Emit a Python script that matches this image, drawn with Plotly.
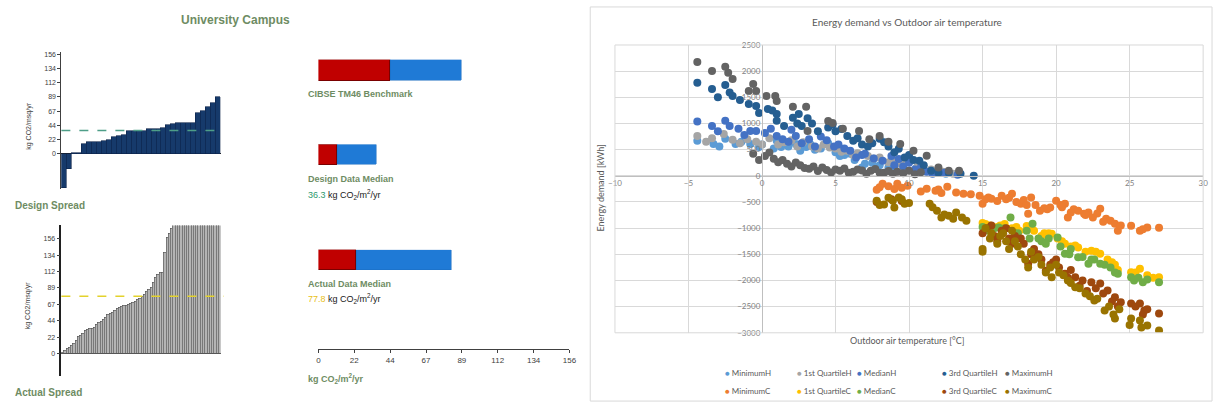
import plotly.graph_objects as go

W, H = 1223, 409


def fx(p):
    return p / W


def fy(p):
    return 1 - p / H


# ---------------- DATA ----------------
design_spread = [-54, -23, 1, 2, 15, 18, 18, 18, 20, 22, 26, 28, 30, 36, 36, 36, 36, 39, 39, 39,
                 41, 45, 47, 49, 49, 49, 49, 65, 68, 74, 80, 89]
actual_spread = [1, 4, 7, 9, 11, 14, 18, 23, 25, 28, 32, 33, 34, 34, 36, 39, 42, 44, 46, 49,
                 53, 54, 56, 59, 61, 63, 64, 65, 66, 67, 68, 70, 71, 73, 75, 77, 80, 85, 87, 90,
                 96, 103, 108, 110, 110, 138, 158, 163, 170, 178, 185, 192, 198, 205, 214, 222,
                 231, 240, 252, 265, 280, 296, 315, 338, 362, 390, 425, 470, 530, 610]
design_median = 36.3
actual_median = 77.8

bench_labels = ["CIBSE TM46 Benchmark", "Design Data Median", "Actual Data Median"]
bench_red = [45, 12, 23.5]
bench_blue = [44, 24.3, 59]
co2_tick_labels = ["0", "22", "44", "67", "89", "112", "134", "156"]
co2_max = 156

minH_x = [-4.4, -3.3, -2.5, -1.8, -0.8, -0.2, 1.0, 1.3, 2.3, 3.0, 3.6, 4.5, 5.0, 5.6, 6.0, 6.8, 7.5, 8.6, 9.7, 10.5, 11.6, 12.5,
          -2.9, -1.4, 0.0, 0.8, 1.8, 2.6, 3.3, 4.0, 5.3, 6.3, 7.0, 8.0, 9.0]
minH_y = [668, 610, 706, 610, 610, 553, 668, 553, 610, 553, 500, 620, 450, 400, 420, 160, 250, 160, 250, 150, 60, 40,
          560, 650, 600, 520, 560, 480, 600, 520, 380, 300, 230, 200, 180]
q1H_x = [-4.4, -3.4, -2.6, -2.0, -1.0, -0.4, 0.5, 1.1, 2.0, 2.8, 3.4, 4.2, 5.0, 5.8, 6.5, 7.2, 8.0, 9.0, 9.8, 10.6, 11.5, 12.3, 13.0,
         -3.8, -1.5, 0.0, 1.5, 2.4, 3.8, 4.6, 5.4, 6.2, 7.6, 8.6, 9.4]
q1H_y = [760, 720, 800, 690, 700, 650, 720, 600, 680, 640, 560, 600, 520, 480, 430, 380, 350, 300, 280, 200, 120, 80, 40,
         650, 620, 600, 640, 560, 520, 540, 460, 400, 330, 260, 230]
medH_x = [-4.4, -3.4, -2.5, -2.2, -1.6, -0.8, -0.4, 0.2, 1.0, 1.4, 2.3, 2.7, 3.2, 4.4, 4.9, 5.6, 6.4, 7.0, 8.2, 8.8, 9.3, 10.0, 10.8, 11.6, 12.4, 13.3,
          -3.0, -1.2, 0.6, 1.8, 2.0, 3.6, 4.0, 5.2, 6.0, 6.8, 7.6, 9.0, 9.6, 10.4, 11.2]
medH_y = [1040, 954, 1050, 954, 900, 858, 858, 820, 763, 700, 763, 620, 700, 680, 560, 520, 350, 420, 286, 380, 320, 250, 160, 38, 60, 20,
          850, 780, 900, 650, 880, 560, 750, 600, 480, 400, 330, 200, 180, 120, 80]
q3H_x = [-4.4, -3.4, -2.5, -2.2, -2.0, -0.9, -0.4, 0.4, 1.0, 1.0, 2.1, 2.4, 2.7, 3.1, 4.5, 4.8, 5.4, 6.2, 6.8, 7.5,
         8.0, 8.6, 9.3, 10.0, 10.7, 11.5, 12.0, 12.7, 13.5, 14.4,
         -3.0, -1.5, -0.2, 0.7, 1.5, 2.5, 3.4, 3.8, 5.0, 5.8, 6.5, 7.2, 8.3, 9.0, 9.7, 10.3, 11.0]
q3H_y = [1780, 1660, 1736, 1590, 1526, 1374, 1336, 1278, 1183, 1050, 1112, 1000, 954, 1100, 922, 980, 896, 668, 600, 620,
         706, 560, 515, 400, 286, 95, 57, 57, 40, 0,
         1500, 1450, 1200, 1250, 950, 1180, 1000, 850, 850, 760, 720, 560, 640, 450, 350, 300, 200]
maxH_x = [-4.4, -3.4, -2.5, -2.3, -2.0, -0.9, -0.6, -0.4, 0.3, 0.9, 1.0, 2.1, 3.0, 3.1, 4.5, 4.8, 5.5, 6.6, 7.3, 8.0,
          8.6, 9.4, 10.3, 11.2, 12.0, 12.7, 13.4,
          -0.6, -0.2, 0.2, 0.5, 0.8, 1.1, 1.4, 1.7, 2.0, 2.3, 2.6, 2.9, 3.2, 3.5, 3.8, 4.1, 4.4, 4.7, 5.0, 5.3,
          5.6, 5.9, 6.2, 6.5, 6.8, 7.1, 7.4, 7.7, 8.0, 8.3, 8.6, 8.9, 9.2, 9.6, 10.0, 10.4, 10.8]
maxH_y = [2175, 2003, 2086, 1971, 1850, 1622, 1755, 1622, 1526, 1526, 1431, 1322, 1322, 858, 1049, 1011, 900, 858, 700, 763,
          650, 610, 477, 382, 158, 95, 95,
          420, 300, 380, 445, 324, 260, 300, 229, 180, 254, 200, 150, 134, 180, 90, 160, 110, 63, 120, 95,
          140, 60, 80, 120, 100, 40, 95, 130, 60, 57, 90, 40, 80, 50, 95, 30, 70]

minC_x = [7.8, 8.2, 8.6, 9.2, 9.5, 9.9, 11.2, 11.8, 12.2, 12.6, 13.2, 13.7, 14.8, 15.0, 15.4, 15.6, 16.0, 16.3, 16.6, 17.0,
          17.3, 17.6, 18.1, 18.3, 18.6, 18.9, 19.2, 19.6, 20.0, 20.3, 20.6, 20.8, 21.2, 21.5, 21.9, 22.2, 22.5, 23.0, 23.4, 23.7,
          24.0, 24.2, 25.1, 25.7, 26.2, 27.0,
          8.0, 9.0, 10.8, 12.0, 14.2, 15.2, 16.8, 17.8, 18.0, 19.4, 20.4, 21.0, 22.0, 22.8, 23.2, 24.4, 25.9]
minC_y = [-267, -153, -200, -153, -230, -191, -248, -286, -330, -210, -318, -343, -382, -534, -414, -439, -480, -382, -450, -343,
          -500, -534, -725, -414, -560, -668, -620, -605, -477, -560, -534, -795, -640, -668, -725, -700, -795, -630, -820, -860,
          -916, -1050, -954, -1050, -986, -992,
          -220, -250, -300, -260, -350, -450, -420, -460, -560, -640, -600, -700, -750, -720, -880, -950, -1020]
q1C_x = [15.0, 15.5, 16.0, 16.5, 17.0, 17.5, 18.0, 18.5, 19.0, 19.5, 19.7, 20.1, 20.6, 21.0, 21.5, 22.0, 22.4, 23.0, 23.5, 24.0,
         24.2, 25.1, 25.7, 26.2, 27.0,
         15.2, 16.2, 17.3, 18.3, 19.2, 20.4, 21.3, 22.7, 23.8, 25.4, 26.6]
q1C_y = [-900, -950, -980, -920, -1000, -1050, -960, -1050, -1150, -1100, -1107, -1200, -1300, -1350, -1368, -1450, -1431, -1488, -1600, -1700,
         -1800, -1845, -1775, -1900, -1940,
         -920, -950, -980, -1000, -1100, -1250, -1330, -1450, -1650, -1850, -1950]
medC_x = [15.0, 15.4, 16.1, 16.9, 17.4, 18.0, 18.4, 19.0, 19.5, 20.1, 20.6, 21.0, 21.5, 22.2, 22.6, 23.0, 23.7, 24.2, 25.1, 25.9, 26.2, 27.0,
          15.8, 16.5, 17.2, 18.2, 18.8, 19.3, 20.3, 20.9, 21.8, 22.4, 23.3, 24.0, 25.3, 25.6]
medC_y = [-980, -1050, -986, -795, -1100, -1050, -916, -1250, -1200, -1177, -1488, -1400, -1558, -1679, -1600, -1679, -1750, -1870, -1940, -2035, -1980, -2035,
          -1000, -1000, -1100, -1200, -1200, -1300, -1350, -1500, -1550, -1600, -1700, -1850, -2000, -1950]
q3C_x = [7.8, 8.8, 9.5, 15.0, 15.3, 15.8, 16.3, 16.8, 17.2, 17.8, 18.1, 18.5, 19.0, 19.3, 19.8, 20.2, 20.6, 21.0, 21.3, 21.8,
         22.4, 23.0, 23.5, 24.0, 24.4, 25.1, 25.7, 26.0, 27.0,
         15.6, 16.0, 16.6, 17.0, 17.6, 18.3, 18.8, 19.6, 20.0, 20.8, 21.6, 22.1, 22.7, 23.2, 23.8, 24.2, 25.4, 25.9, 26.2]
q3C_y = [-500, -450, -480, -1100, -1000, -1150, -1050, -1200, -1150, -1300, -1679, -1400, -1600, -1813, -1650, -1750, -1870, -1800, -1940, -2000,
         -2035, -2060, -2194, -2322, -2417, -2442, -2442, -2576, -2633,
         -950, -1250, -1000, -1300, -1200, -1500, -1500, -1700, -1600, -1950, -2100, -2200, -2150, -2250, -2400, -2500, -2500, -2650, -2550]
maxC_x = [7.8, 8.3, 8.9, 9.0, 9.3, 9.7, 11.4, 11.9, 12.2, 12.7, 13.2, 13.6, 13.9, 15.0, 15.0, 15.5, 16.0, 16.4, 16.8, 17.2,
          17.6, 18.1, 18.5, 19.0, 19.7, 20.2, 20.8, 21.3, 22.0, 22.6, 23.3, 24.0, 25.1, 25.7, 26.2, 27.0,
          15.2, 15.6, 16.2, 16.6, 17.0, 17.4, 17.9, 18.3, 18.8, 19.3, 19.6, 20.0, 20.5, 21.0, 21.6, 22.3, 22.8, 23.6, 23.9, 24.3, 25.0, 25.8,
          8.0, 8.6, 9.5, 10.0, 11.6, 12.4, 13.0]
maxC_y = [-477, -550, -477, -605, -414, -534, -534, -668, -795, -763, -700, -795, -858, -1400, -1450, -1200, -1300, -1100, -1400, -1250,
          -1500, -1750, -1600, -1700, -1940, -1850, -2000, -2131, -2250, -2385, -2576, -2728, -2728, -2767, -2862, -2958,
          -1000, -1100, -1150, -1250, -1050, -1350, -1600, -1450, -1550, -1850, -1750, -1700, -1900, -2050, -2150, -2300, -2350, -2500, -2650, -2550, -2850, -2900,
          -560, -420, -450, -520, -600, -740, -820]

series_names = ["MinimumH", "1st QuartileH", "MedianH", "3rd QuartileH", "MaximumH",
                "MinimumC", "1st QuartileC", "MedianC", "3rd QuartileC", "MaximumC"]
series_x = [minH_x, q1H_x, medH_x, q3H_x, maxH_x, minC_x, q1C_x, medC_x, q3C_x, maxC_x]
series_y = [minH_y, q1H_y, medH_y, q3H_y, maxH_y, minC_y, q1C_y, medC_y, q3C_y, maxC_y]
series_colors = ["#5B9BD5", "#A5A5A5", "#4472C4", "#255E91", "#636363",
                 "#ED7D31", "#FFC000", "#70AD47", "#9E480E", "#997300"]

# ---------------- FIGURE ----------------
fig = go.Figure()

LEFT_FONT = "Liberation Sans"
XL_FONT = "Lato"
GREEN_TXT = "#6E8C63"

# Design spread
fig.add_trace(go.Bar(x=list(range(len(design_spread))), y=design_spread, xaxis="x", yaxis="y",
                     marker=dict(color="#163A6B", line=dict(color="#0B2247", width=0.6)), showlegend=False))
# Actual spread
fig.add_trace(go.Bar(x=list(range(len(actual_spread))), y=actual_spread, xaxis="x2", yaxis="y2",
                     marker=dict(color="#B4B4B4", line=dict(color="#505050", width=0.6)), showlegend=False))

# Benchmark bars (each on its own y axis)
bench_axes = ["y5", "y6", "y7"]
for lab, r, b, ya in zip(bench_labels, bench_red, bench_blue, bench_axes):
    fig.add_trace(go.Bar(x=[r], y=[lab], orientation="h", xaxis="x3", yaxis=ya, width=[1],
                         marker=dict(color="#C00000", line=dict(color="#7A0000", width=1)), showlegend=False))
    fig.add_trace(go.Bar(x=[b], y=[lab], orientation="h", xaxis="x3", yaxis=ya, width=[1],
                         marker=dict(color="#1F7AD6", line=dict(color="#1A6CC0", width=0.5)), showlegend=False))

# Scatter
for n, xs, ys, c in zip(series_names, series_x, series_y, series_colors):
    fig.add_trace(go.Scatter(x=xs, y=ys, mode="markers", name=n, xaxis="x4", yaxis="y4",
                             marker=dict(color=c, size=8, line=dict(width=0)), showlegend=False))

tickvals_co2 = [k * co2_max / (len(co2_tick_labels) - 1) for k in range(len(co2_tick_labels))]

small_axis_font = dict(family=LEFT_FONT, size=7, color="#404040")

x_sp = [fx(55), fx(216)]
fig.update_layout(
    width=W, height=H, margin=dict(l=0, r=0, t=0, b=0),
    paper_bgcolor="white", plot_bgcolor="rgba(0,0,0,0)",
    barmode="stack", bargap=0,
    xaxis=dict(domain=x_sp, anchor="y", visible=False, range=[-0.5, len(design_spread) - 0.5]),
    yaxis=dict(domain=[fy(189), fy(48)], anchor="x", range=[-56, 160], tickvals=tickvals_co2,
               ticktext=co2_tick_labels, ticks="outside", ticklen=3, tickcolor="#404040",
               showline=True, linecolor="#404040", linewidth=1, showgrid=False,
               zeroline=True, zerolinecolor="#202020", zerolinewidth=1, tickfont=small_axis_font),
    xaxis2=dict(domain=x_sp, anchor="y2", visible=False, range=[-0.5, len(actual_spread) - 0.5]),
    yaxis2=dict(domain=[fy(380), fy(226)], anchor="x2", range=[-30, 174], tickvals=tickvals_co2,
                ticktext=co2_tick_labels, ticks="outside", ticklen=3, tickcolor="#404040",
                showline=True, linecolor="#202020", linewidth=1.5, showgrid=False,
                zeroline=True, zerolinecolor="#606060", zerolinewidth=1, tickfont=small_axis_font),
    xaxis3=dict(domain=[fx(315), fx(569)], anchor="free", position=fy(353), range=[0, co2_max],
                tickvals=tickvals_co2, ticktext=co2_tick_labels, ticks="outside", ticklen=3,
                tickcolor="#404040", showline=True, linecolor="#404040", linewidth=1, showgrid=False,
                zeroline=False, tickfont=dict(family=LEFT_FONT, size=8, color="#404040")),
    yaxis5=dict(domain=[fy(78), fy(56)], anchor="x3", range=[-0.5, 0.5], visible=False),
    yaxis6=dict(domain=[fy(164), fy(143)], anchor="x3", range=[-0.5, 0.5], visible=False),
    yaxis7=dict(domain=[fy(272), fy(251)], anchor="x3", range=[-0.5, 0.5], visible=False),
)

# Scatter axes
sx0, sx1 = fx(615), fx(1210)
sy0, sy1 = fy(336), fy(41)
xr = [-10, 30]
yr = [-3000, 2500]
ypos_paper = sx0 + (0 - xr[0]) / (xr[1] - xr[0]) * (sx1 - sx0)
xpos_paper = sy0 + (0 - yr[0]) / (yr[1] - yr[0]) * (sy1 - sy0)
xl_tick_font = dict(family=XL_FONT, size=8, color="#7F7F7F")
fig.update_layout(
    xaxis4=dict(domain=[sx0, sx1], anchor="free", position=xpos_paper, range=xr, dtick=5,
                showgrid=True, gridcolor="#D9D9D9", gridwidth=1, zeroline=False,
                showline=True, linecolor="#BFBFBF", linewidth=1, ticks="", tickfont=xl_tick_font),
    yaxis4=dict(domain=[sy0, sy1], anchor="free", position=ypos_paper, range=yr, dtick=500,
                showgrid=True, gridcolor="#D9D9D9", gridwidth=1, zeroline=False,
                showline=True, linecolor="#BFBFBF", linewidth=1, ticks="", tickfont=xl_tick_font),
)

shapes = [
    dict(type="line", xref="x domain", yref="y", x0=0, x1=0.97, y0=design_median, y1=design_median,
         line=dict(color="#4E9E88", width=1.5, dash="dash")),
    dict(type="line", xref="x2 domain", yref="y2", x0=0, x1=1.02, y0=actual_median, y1=actual_median,
         line=dict(color="#E3D22C", width=1.5, dash="dash")),
    dict(type="rect", xref="paper", yref="paper", x0=fx(590), x1=fx(1219), y0=fy(406), y1=fy(2),
         line=dict(color="#D9D9D9", width=1)),
    dict(type="rect", xref="x4 domain", yref="y4 domain", x0=0, x1=1, y0=0, y1=1,
         line=dict(color="#D9D9D9", width=1)),
]
fig.update_layout(shapes=shapes)

ann = []


def txt(x, y, s, size, color, family=LEFT_FONT, xanchor="left", angle=0):
    ann.append(dict(x=fx(x), y=fy(y), xref="paper", yref="paper", text=s, showarrow=False,
                    xanchor=xanchor, yanchor="middle", textangle=angle,
                    font=dict(family=family, size=size, color=color)))


txt(231, 15, "<b>University Campus</b>", 12, GREEN_TXT, xanchor="center")
txt(6, 206, "<b>Design Spread</b>", 10, GREEN_TXT)
txt(6, 397, "<b>Actual Spread</b>", 10, GREEN_TXT)
txt(22, 124, "kg CO2/msq/yr", 7, "#404040", xanchor="center", angle=-90)
txt(22, 308, "kg CO2/msq/yr", 7, "#404040", xanchor="center", angle=-90)
txt(302, 91, "<b>" + bench_labels[0] + "</b>", 9, GREEN_TXT)
txt(302, 178, "<b>" + bench_labels[1] + "</b>", 9, GREEN_TXT)
txt(302, 194, f"<span style='color:#2E9A6E'>{design_median}</span> kg CO<sub>2</sub>/m<sup>2</sup>/yr", 9, "#202020")
txt(302, 286, "<b>" + bench_labels[2] + "</b>", 9, GREEN_TXT)
txt(302, 301, f"<span style='color:#E8C020'>{actual_median}</span> kg CO<sub>2</sub>/m<sup>2</sup>/yr", 9, "#202020")
txt(302, 383, "<b>kg CO<sub>2</sub>/m<sup>2</sup>/yr</b>", 9, GREEN_TXT)

# Scatter chart texts
txt(910, 17, "Energy demand vs Outdoor air temperature", 10, "#595959", family=XL_FONT, xanchor="center")
txt(910, 344, "Outdoor air temperature [°C]", 9, "#595959", family=XL_FONT, xanchor="center")
txt(600, 188, "Energy demand [kWh]", 9, "#595959", family=XL_FONT, xanchor="center", angle=-90)

# Manual legend
leg_cols = [724, 797, 858, 944, 1008]
leg_rows = [377, 396]
for i, (n, c) in enumerate(zip(series_names, series_colors)):
    r = i // 5
    col = i % 5
    txt(leg_cols[col], leg_rows[r], f"<span style='color:{c}'>●</span> {n}", 8, "#595959", family=XL_FONT)

fig.update_layout(annotations=ann)

fig.write_html("out.html", config={"displayModeBar": False},
               post_script="document.body.style.margin='0';document.body.style.padding='0';")
